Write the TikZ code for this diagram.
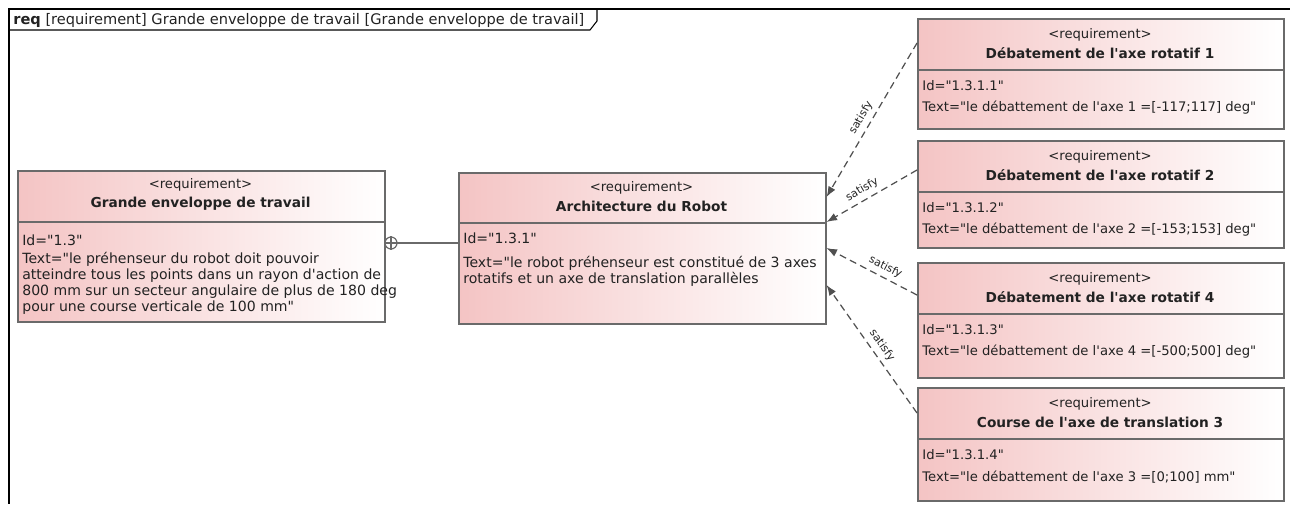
\documentclass[tikz,border=0pt]{standalone}
\usepackage{fontspec}
\setmainfont{DejaVu Sans}[Ligatures=TeXOff]
\usetikzlibrary{arrows.meta}
\definecolor{ReqPink}{HTML}{F4C4C4}
\definecolor{BoxGrey}{HTML}{6A6A6A}
\definecolor{LinkGrey}{HTML}{505050}
\definecolor{TextDark}{HTML}{222222}

\begin{document}
\begin{tikzpicture}[x=0.02cm,y=-0.02cm,>=Latex,every node/.style={font=\fontsize{7.5}{9.1}\selectfont,text=TextDark,inner sep=0pt},
req/.style={draw=BoxGrey,line width=0.9pt,left color=ReqPink,right color=white,anchor=north west},
sepline/.style={BoxGrey,line width=0.9pt},
reqtitle/.style={font=\fontsize{7.8}{9.1}\selectfont\bfseries},
bigtext/.style={font=\fontsize{8}{9.1}\selectfont},
satisfy/.style={-{Latex[length=6pt,width=4.5pt]},dashed,dash pattern=on 4pt off 2.5pt,LinkGrey,line width=0.7pt},
satlab/.style={font=\fontsize{6.2}{6.5}\selectfont,sloped,above=2.5pt}]
\useasboundingbox(0,0)rectangle(1290,504);
% frame of the diagram
\draw[line width=1.3pt](1290,9)--(9,9)--(9,504);
\draw[line width=0.6pt](9,30)--(590,30)--(597,21)--(597,9);
\node[anchor=west,font=\fontsize{8.3}{9.1}\selectfont](frm)at(13,20){\textbf{req} [requirement] Grande enveloppe de travail [Grande enveloppe de travail]};
% left requirement
\node[req,minimum width=7.34cm,minimum height=3.02cm](env)at(17,170){};\draw[sepline](17,222)--(384,222);
\node(envst)at(200.5,185){<requirement>};\node[reqtitle](envti)at(200.5,204){Grande enveloppe de travail};
\node[anchor=west,bigtext](envid)at(22,240){Id="1.3"};
\node[anchor=north west,align=left,bigtext](envtx)at(22,252){Text="le préhenseur du robot doit pouvoir\\atteindre tous les points dans un rayon d'action de\\800 mm sur un secteur angulaire de plus de 180 deg\\pour une course verticale de 100 mm"};
% central requirement
\node[req,minimum width=7.34cm,minimum height=3.02cm](arch)at(458,172){};\draw[sepline](458,223)--(825,223);
\node(archst)at(641.5,188){<requirement>};\node[reqtitle](archti)at(641.5,206){Architecture du Robot};
\node[anchor=west,bigtext](archid)at(463,238){Id="1.3.1"};
\node[anchor=north west,align=left,bigtext](archtx)at(463,256){Text="le robot préhenseur est constitué de 3 axes\\rotatifs et un axe de translation parallèles};
% containment
\node[draw=BoxGrey,circle,line width=0.7pt,minimum size=12*0.02cm](cmp)at(391,243){};
\draw[BoxGrey,line width=0.6pt](cmp.north)--(cmp.south)(cmp.west)--(cmp.east);
\draw[BoxGrey,line width=0.7pt](cmp)--(arch.west|-cmp);
% derived requirements
\foreach \n/\yt/\h/\ttl/\idv/\txt in {r1/18/110/Débatement de l'axe rotatif 1/1.3.1.1/le débattement de l'axe 1 =[-117;117] deg,r2/140/107/Débatement de l'axe rotatif 2/1.3.1.2/le débattement de l'axe 2 =[-153;153] deg,r3/262/115/Débatement de l'axe rotatif 4/1.3.1.3/le débattement de l'axe 4 =[-500;500] deg,r4/387/113/Course de l'axe de translation 3/1.3.1.4/le débattement de l'axe 3 =[0;100] mm}{
\node[req,minimum width=7.32cm,minimum height=\h*0.02cm](\n)at(917,\yt){};\draw[sepline](917,\yt+52)--(1283,\yt+52);
\node(\n st)at(1100,\yt+17){<requirement>};\node[reqtitle](\n ti)at(1100,\yt+35){\ttl};
\node[anchor=west](\n id)at(922,\yt+68){Id="\idv"};\node[anchor=west](\n tx)at(922,\yt+90){Text="\txt"};}
\draw[satisfy](r1.west|-0,43)--node[satlab,pos=.52]{satisfy}(arch.east|-0,197);
\draw[satisfy](r2.west|-0,170)--node[satlab,pos=.55]{satisfy}(arch.east|-0,222);
\draw[satisfy](r3.west|-0,295)--node[satlab,pos=.4]{satisfy}(arch.east|-0,248);
\draw[satisfy](r4.west|-0,413)--node[satlab,pos=.48]{satisfy}(arch.east|-0,285);
\end{tikzpicture}
\end{document}
